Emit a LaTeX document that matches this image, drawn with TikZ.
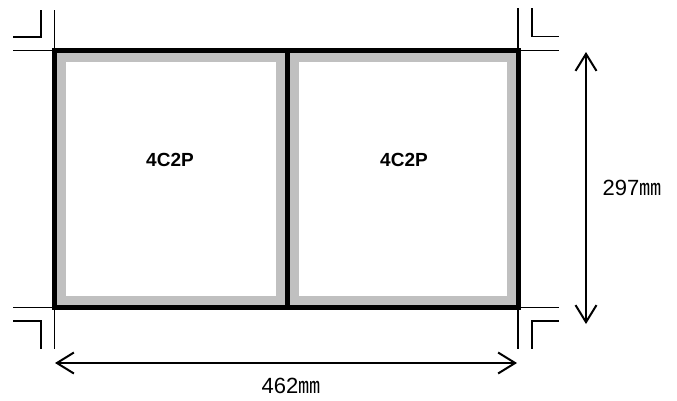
\documentclass[tikz,border=0pt]{standalone}
\usepackage{fontspec}
\setmainfont{Liberation Sans}
\newfontfamily\cjk{Noto Sans CJK JP}
\usetikzlibrary{arrows.meta}
\definecolor{frame_gray}{RGB}{192,192,192}

\begin{document}
\begin{tikzpicture}[x=1bp,y=-1bp]
    \tikzstyle{sheet}=[draw=black, line width=5bp, line join=miter]
    \tikzstyle{bleed}=[draw=frame_gray, line width=9bp, line join=miter]
    \tikzstyle{crop}=[draw=black, line width=1.6bp]
    \tikzstyle{dim}=[draw=black, line width=2bp, {Straight Barb[length=17bp,width=21bp,line width=2bp]}-{Straight Barb[length=17bp,width=21bp,line width=2bp]}]
    \tikzstyle{label}=[font=\fontsize{19bp}{21bp}\selectfont\bfseries, text=black]
    \tikzstyle{size}=[font=\fontsize{22bp}{25bp}\selectfont, text=black]

    \useasboundingbox (0,0) rectangle (677,400);

    % sheet corners
    \coordinate (tl) at (54.5,50.5);
    \coordinate (tr) at (518,50.5);
    \coordinate (bl) at (54.5,307.5);
    \coordinate (br) at (518,307.5);
    \coordinate (mt) at (287,50.5);
    \coordinate (mb) at (287,307.5);

    % gray inner frames
    \draw[bleed] (61.5,57.5) rectangle (280,300.5);
    \draw[bleed] (294,57.5) rectangle (511,300.5);
    \draw[sheet] (tl) rectangle (br);
    \draw[sheet] (mt) -- (mb);

    \node[label] (p1) at (170,160) {4C2P};
    \node[label] (p2) at (404,160) {4C2P};

    % crop marks
    \draw[crop] (54.5,10) -- (tl) -- (13,50.5);
    \draw[crop] (41,10) -- (41,37) -- (13,37);
    \draw[crop] (518,8) -- (tr) -- (559,50.5);
    \draw[crop] (532,8) -- (532,36.5) -- (559,36.5);
    \draw[crop] (13,307.5) -- (bl) -- (54.5,349);
    \draw[crop] (13,321) -- (41,321) -- (41,349);
    \draw[crop] (559,307.5) -- (br) -- (518,349);
    \draw[crop] (559,321) -- (532,321) -- (532,349);

    % dimensions
    \coordinate (h1) at (55,363);
    \coordinate (h2) at (517,363);
    \coordinate (v1) at (586,52);
    \coordinate (v2) at (586,324);
    \draw[dim] (h1) -- (h2);
    \draw[dim] (v1) -- (v2);
    \node[size] (w) at (291,386) {462{\cjk ㎜}};
    \node[size] (h) at (632,188) {297{\cjk ㎜}};
\end{tikzpicture}
\end{document}
